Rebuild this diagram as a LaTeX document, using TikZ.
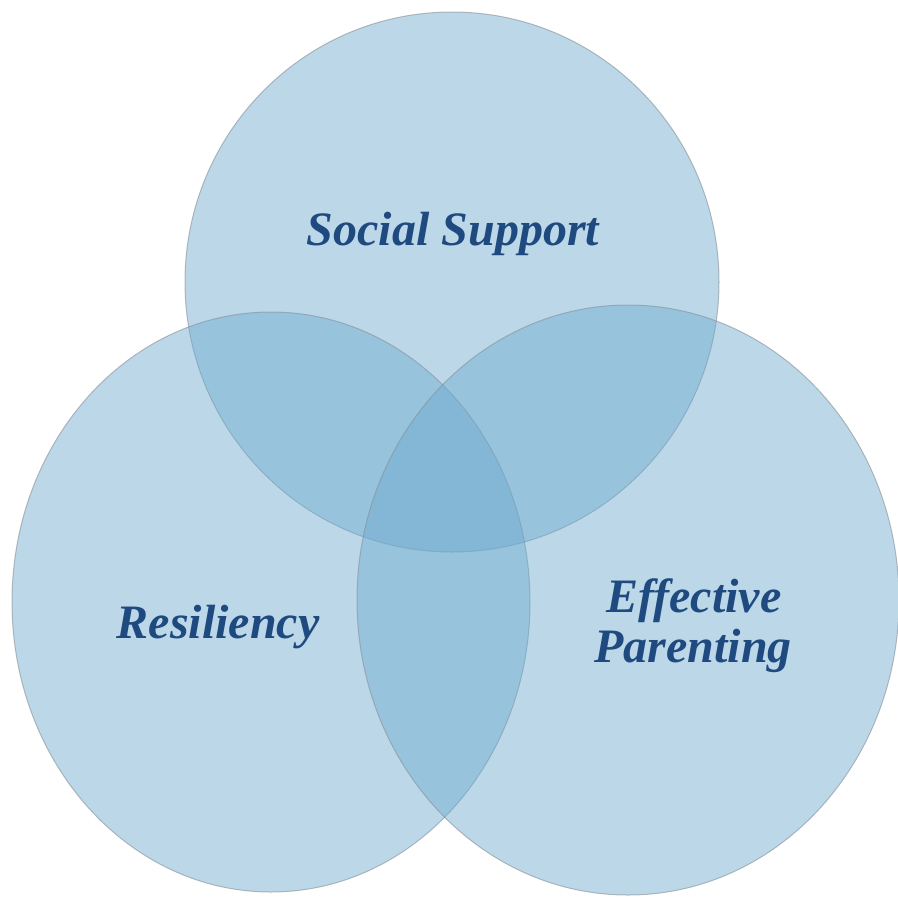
\documentclass[tikz,border=0pt]{standalone}
\usepackage{fontspec}
\setmainfont{Liberation Serif}
\definecolor{vennfill}{RGB}{107,170,206}
\definecolor{vennline}{RGB}{135,145,155}
\definecolor{labeltext}{RGB}{31,74,128}
\begin{document}
\begin{tikzpicture}[x=1pt,y=-1pt,
  venn/.style={fill=vennfill,fill opacity=0.45,draw=vennline,draw opacity=0.6,line width=1pt},
  lbl/.style={text=labeltext,font=\fontsize{48}{50}\selectfont\bfseries\itshape,align=center,inner sep=0pt}]
\useasboundingbox[fill=white] (0,0) rectangle (898,898);
\path[venn] (452,282) ellipse [x radius=267,y radius=270];
\path[venn] (271,602) ellipse [x radius=259,y radius=290];
\path[venn] (628,600) ellipse [x radius=271,y radius=295];
\node[lbl,anchor=base] (ss) at (453,245) {Social Support};
\node[lbl,anchor=base] (rs) at (218,638) {Resiliency};
\node[lbl,anchor=base] (ep1) at (694,612) {Effective};
\node[lbl,anchor=base] (ep2) at (693,662) {Parenting};
\end{tikzpicture}
\end{document}
